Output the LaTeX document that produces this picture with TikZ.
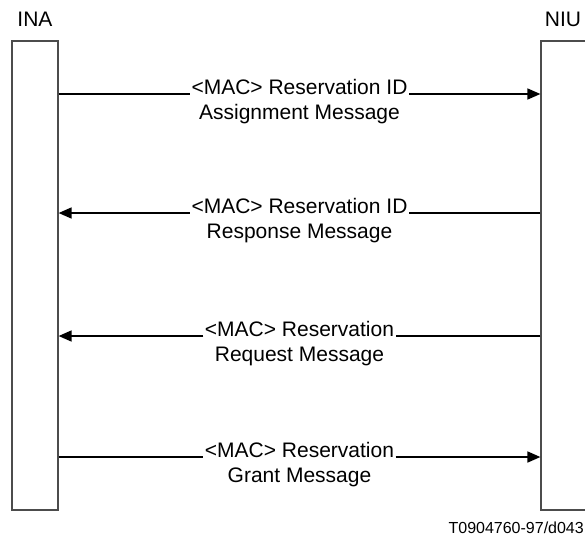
\documentclass[tikz,border=0pt]{standalone}
\usepackage{fontspec}
\setmainfont{Liberation Sans}
\usetikzlibrary{arrows.meta}

\begin{document}
\begin{tikzpicture}[x=1pt,y=-1pt,
      lifeline/.style={draw=black!70,line width=1.2pt,minimum width=46pt,
                       minimum height=469pt,inner sep=0pt},
      lbl/.style={anchor=base,inner xsep=1.5pt,inner ysep=0pt,
                  font=\fontsize{21}{25}\selectfont},
      msg/.style={line width=1.6pt},
      arr/.style={msg,-{Triangle[length=13pt,width=11pt]}}]
    \useasboundingbox (0,0) rectangle (585,538);
    \node[lifeline] (ina) at (35,275.5) {};
    \node[lifeline] (niu) at (564,275.5) {};
    \node[lbl] (inaname) at (35,26) {INA};
    \node[lbl] (niuname) at (563,26) {NIU};

    \node[lbl] (assign) at (299.5,94) {<MAC> Reservation ID};
    \node[lbl] (assign2) at (299.5,119) {Assignment Message};
    \draw[msg] (ina.east |- assign.base) -- (assign.base west);
    \draw[arr] (assign.base east) -- (niu.west |- assign.base);

    \node[lbl] (response) at (299.5,213) {<MAC> Reservation ID};
    \node[lbl] (response2) at (299.5,238) {Response Message};
    \draw[msg] (niu.west |- response.base) -- (response.base east);
    \draw[arr] (response.base west) -- (ina.east |- response.base);

    \node[lbl] (request) at (299.5,336) {<MAC> Reservation};
    \node[lbl] (request2) at (299.5,361) {Request Message};
    \draw[msg] (niu.west |- request.base) -- (request.base east);
    \draw[arr] (request.base west) -- (ina.east |- request.base);

    \node[lbl] (grant) at (299.5,457) {<MAC> Reservation};
    \node[lbl] (grant2) at (299.5,482) {Grant Message};
    \draw[msg] (ina.east |- grant.base) -- (grant.base west);
    \draw[arr] (grant.base east) -- (niu.west |- grant.base);

    \node[anchor=base east,inner sep=0pt,font=\fontsize{16}{19}\selectfont]
      (figid) at (584,533) {T0904760-97/d043};
  \end{tikzpicture}
\end{document}
